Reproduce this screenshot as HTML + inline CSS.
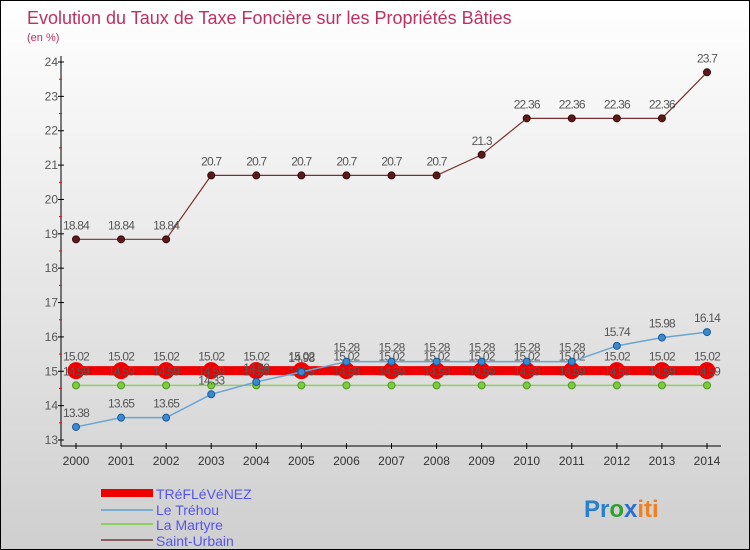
<!DOCTYPE html>
<html><head><meta charset="utf-8"><style>
body{margin:0}
#c{width:750px;height:550px;position:relative;box-sizing:border-box;border:1px solid #000;background:linear-gradient(#ffffff,#cfcfcf);font-family:"Liberation Sans",sans-serif;overflow:hidden}
svg{position:absolute;left:0;top:0}
</style></head><body>
<div id="c">
<svg id="s" width="750" height="550">
<text x="26" y="23" font-size="18" fill="#c0305e">Evolution du Taux de Taxe Foncière sur les Propriétés Bâties</text>
<text x="26" y="40" font-size="11" fill="#c0305e">(en %)</text>
<g id="g"></g>
<g>
<rect x="100" y="488" width="52" height="8" fill="#e00"/>
<text x="155" y="498" font-size="14" fill="#5555ee">TRéFLéVéNEZ</text>
<rect x="100" y="508" width="52" height="2" fill="#7aaed0"/>
<text x="155" y="514" font-size="14" fill="#5555ee">Le Tréhou</text>
<rect x="100" y="522" width="52" height="2" fill="#8ed05e"/>
<text x="155" y="529" font-size="14" fill="#5555ee">La Martyre</text>
<rect x="100" y="538" width="52" height="2" fill="#8a6060"/>
<text x="155" y="545" font-size="14" fill="#5555ee">Saint-Urbain</text>
</g>
<text x="583" y="516" font-size="24" font-weight="bold"><tspan fill="#2a7fd0">Pr</tspan><tspan fill="#30a030">o</tspan><tspan fill="#2a6fd0">x</tspan><tspan fill="#f08020">iti</tspan></text>
</svg>
</div>
<script>
const years=[2000,2001,2002,2003,2004,2005,2006,2007,2008,2009,2010,2011,2012,2013,2014];
const yTicks=[13,14,15,16,17,18,19,20,21,22,23,24];
const trefle=[15.02,15.02,15.02,15.02,15.02,15.02,15.02,15.02,15.02,15.02,15.02,15.02,15.02,15.02,15.02];
const trehou=[13.38,13.65,13.65,14.33,14.69,14.98,15.28,15.28,15.28,15.28,15.28,15.28,15.74,15.98,16.14];
const martyre=[14.59,14.59,14.59,14.59,14.59,14.59,14.59,14.59,14.59,14.59,14.59,14.59,14.59,14.59,14.59];
const urbain=[18.84,18.84,18.84,20.7,20.7,20.7,20.7,20.7,20.7,21.3,22.36,22.36,22.36,22.36,23.7];
const NS="http://www.w3.org/2000/svg";
const g=document.getElementById('g');
function X(i){return 75+i*(706-75)/(years.length-1);}
function Y(v){return 439-(v-13)*(439-61)/11;}
function mk(t,a,p){const e=document.createElementNS(NS,t);for(const k in a)e.setAttribute(k,a[k]);(p||g).appendChild(e);return e;}
let ax=mk('line',{x1:60,y1:55,x2:60,y2:445,stroke:'#000'});


let bx=mk('line',{x1:60,y1:445,x2:720,y2:445,stroke:'#000'});


yTicks.forEach(v=>{
 mk('line',{x1:57,x2:63,y1:Y(v),y2:Y(v),stroke:'#000'});
 if(v<24)mk('line',{x1:58,x2:61,y1:Y(v+0.5),y2:Y(v+0.5),stroke:'#e00'});
 const t=mk('text',{x:57,y:Y(v)+4,'text-anchor':'end','font-size':12,fill:'#555'});
 t.textContent=v;
 
 
});
years.forEach((yr,i)=>{
 mk('line',{x1:X(i),x2:X(i),y1:442,y2:448,stroke:'#000'});
 const t=mk('text',{x:X(i),y:464,'text-anchor':'middle','font-size':12,fill:'#333'});
 t.textContent=yr;
 
 
});
function series(vals,name,color,w,r,fill,stroke){
 const sg=mk('g',{});
 
 
 const pl=mk('polyline',{points:vals.map((v,i)=>X(i)+','+Y(v)).join(' '),fill:'none',stroke:color,'stroke-width':w},sg);
 
 
 vals.forEach((v,i)=>{
  const c=mk('circle',{cx:X(i),cy:Y(v),r:r,fill:fill,stroke:stroke},sg);
  
  
  const t=mk('text',{x:X(i),y:Y(v)-10,'text-anchor':'middle','font-size':12,fill:'#555','letter-spacing':'-0.8'},sg);
  t.textContent=v;
  
  
 });
}
series(urbain,'saint-urbain','#7a3030',1.2,3.5,'#5a1a1a','#3a0a0a');
series(trefle,'trefleenez','#e00',9,8,'#e00','#e00');
series(martyre,'la-martyre','#8ed05e',1.5,3.5,'#7ecb3e','#4a9a20');
series(trehou,'le-trehou','#6aa4d0',1.5,3.5,'#3a8ad0','#1a5a9a');
</script>
</body></html>
